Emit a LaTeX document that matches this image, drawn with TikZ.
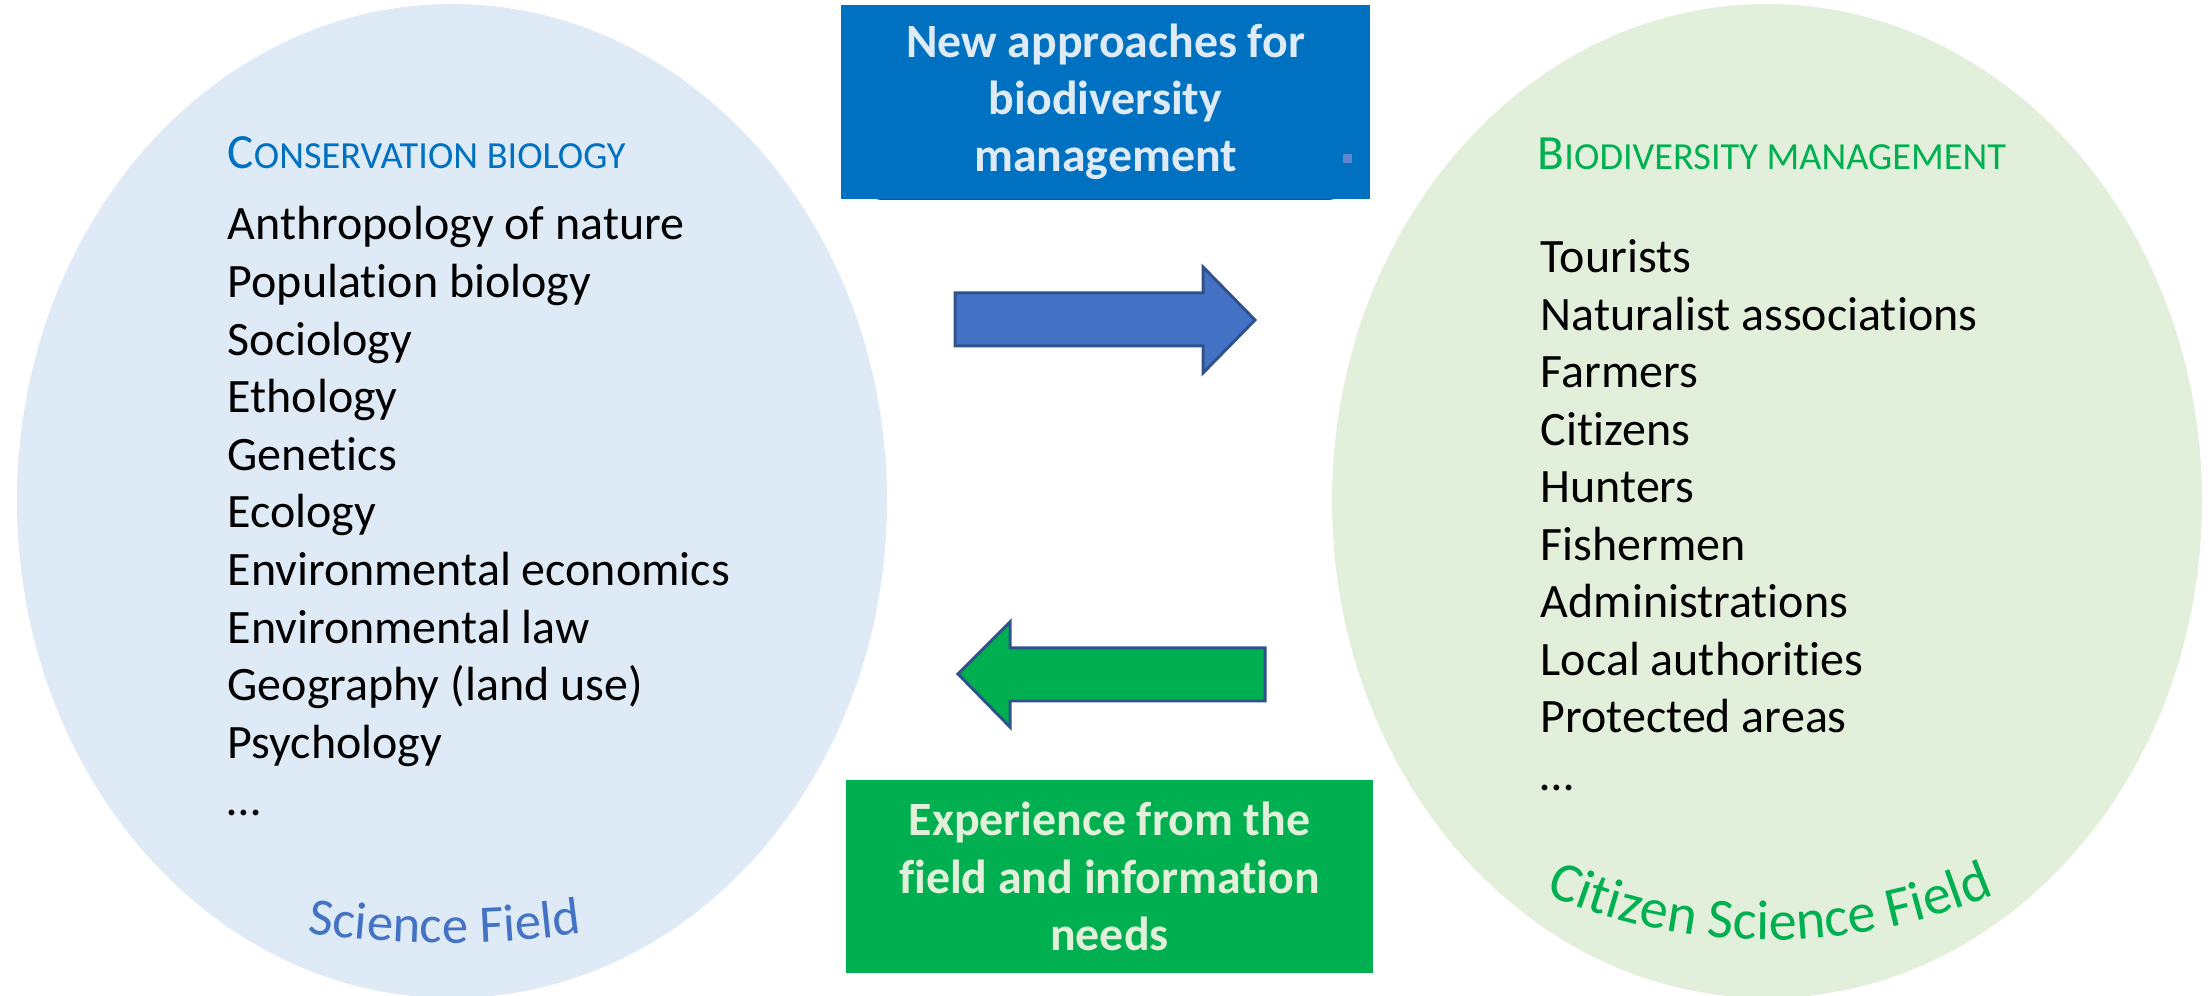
\documentclass[tikz,border=0pt]{standalone}
\usepackage{fontspec}
\setmainfont{Carlito}[Ligatures=NoCommon]
\usetikzlibrary{shapes,arrows,decorations.text}
\definecolor{sciblue}{HTML}{DEEAF6}
\definecolor{citgreen}{HTML}{E2EFDA}
\definecolor{titleblue}{HTML}{0070C0}
\definecolor{titlegreen}{HTML}{00B050}
\definecolor{fieldblue}{HTML}{4472C4}
\definecolor{arrowedge}{HTML}{2F528F}
\definecolor{boxblue}{HTML}{0070C0}
\definecolor{boxgreen}{HTML}{00B050}
\definecolor{boxtextblue}{HTML}{DEEBF7}
\definecolor{boxtextgreen}{HTML}{E2F0D9}
\newcommand{\listfont}{\fontsize{13.65}{16}\selectfont}
\newcommand{\titlefont}{\fontsize{14}{16.5}\selectfont}
\newcommand{\fieldfont}{\fontsize{15}{18}\selectfont}
\newcommand{\citfieldfont}{\fontsize{16}{19}\selectfont}
% first letter big, the rest as small capitals
\newcommand{\smallcapline}[2]{#1{\fontsize{10.9}{12.5}\selectfont #2}}
\tikzstyle{field} = [ellipse, inner sep=0pt,
    minimum width=8.7cm, minimum height=9.94cm]
\tikzstyle{item} = [anchor=base west, inner sep=0pt, font=\listfont]
\tikzstyle{heading} = [anchor=base west, inner sep=0pt, font=\titlefont]
\tikzstyle{flowbox} = [rectangle, inner sep=0pt, align=center,
    font=\bfseries\fontsize{13.6}{16.3}\selectfont]
\tikzstyle{fatarrow} = [draw=arrowedge, line width=0.85pt, line join=miter]

\begin{document}
\begin{tikzpicture}
    \useasboundingbox (0,0) rectangle (22.08,9.96);
    % We start by placing the two fields
    \node [field, fill=sciblue] (science) at (4.52,4.95) {};
    \node [field, fill=citgreen] (citizen) at (17.67,4.95) {};

    % The message boxes in the middle
    \fill [boxblue!80!black, rounded corners=8pt] (8.55,9.71) rectangle (13.55,7.96);
    \node [flowbox, fill=boxblue, text=boxtextblue,
        minimum width=5.29cm, minimum height=1.94cm] (approach) at (11.055,8.94)
        {New approaches for\\biodiversity\\management};
    \node [fill=fieldblue!85!white, minimum size=0.09cm, inner sep=0pt] (dot) at (13.475,8.375) {};
    \node [flowbox, fill=boxgreen, text=boxtextgreen,
        minimum width=5.27cm, minimum height=1.93cm] (experience) at (11.095,1.195)
        {Experience from the\\field and information\\needs};

    % Block arrows between the fields
    \draw [fatarrow, fill=fieldblue] (9.55,7.03) -- (12.03,7.03) -- (12.03,7.29)
        -- (12.55,6.76) -- (12.03,6.23) -- (12.03,6.50) -- (9.55,6.50) -- cycle;
    \draw [fatarrow, fill=boxgreen] (12.65,3.48) -- (10.10,3.48) -- (10.10,3.74)
        -- (9.58,3.22) -- (10.10,2.69) -- (10.10,2.95) -- (12.65,2.95) -- cycle;

    % Headings and lists
    \node [heading, text=titleblue] (scititle) at (2.27,8.27)
        {\smallcapline{C}{ONSERVATION BIOLOGY}};
    \foreach \txt [count=\i from 0] in {Anthropology of nature, Population biology,
        Sociology, Ethology, Genetics, Ecology, Environmental economics,
        Environmental law, Geography (land use), Psychology, …}
        \node [item] (sci\i) at (2.27,7.56-0.576*\i) {\txt};
    \node [heading, text=titlegreen] (cittitle) at (15.37,8.26)
        {\smallcapline{B}{IODIVERSITY MANAGEMENT}};
    \foreach \txt [count=\i from 0] in {Tourists, Naturalist associations,
        Farmers, Citizens, Hunters, Fishermen, Administrations,
        Local authorities, Protected areas, …}
        \node [item] (cit\i) at (15.40,7.23-0.575*\i) {\txt};

    % Curved field names
    \coordinate (scicentre) at (4.45,10.40);
    \coordinate (citcentre) at (17.70,6.28);
    \path [decorate, decoration={text along path, text align=center,
        text color=fieldblue, text={|\fieldfont|Science Field}}]
        ([shift={(259.5:9.87)}]scicentre) arc [start angle=259.5, end angle=280.5, radius=9.87];
    \path [decorate, decoration={text along path, text align=center,
        text color=titlegreen, text={|\citfieldfont|Citizen Science Field}}]
        ([shift={(245.2:5.72)}]citcentre) arc [start angle=245.2, end angle=294.8, radius=5.72];
\end{tikzpicture}
\end{document}
